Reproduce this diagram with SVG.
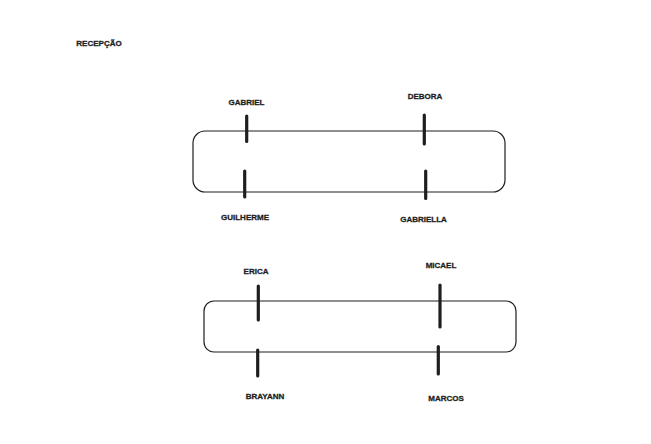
<svg xmlns="http://www.w3.org/2000/svg" width="651" height="444" viewBox="0 0 651 444">
<style>
.t{font-family:"Liberation Sans",Arial,sans-serif;font-weight:bold;font-size:8px;fill:#1e1e1e;stroke:#1e1e1e;stroke-width:0.3;text-anchor:middle}
.box{fill:none;stroke:#1e1e1e;stroke-width:1.2}
.seat{stroke:#1e1e1e;stroke-width:3.2;stroke-linecap:round}
</style>
<rect width="651" height="444" fill="#ffffff"/>
<g id="recepcao"><text class="t" x="99" y="45.5">RECEPÇÃO</text></g>
<g id="mesa1"><rect class="box" x="193" y="131" width="312" height="61" rx="12"/></g>
<g id="mesa2"><rect class="box" x="204" y="301" width="312" height="51" rx="10"/></g>
<g id="gabriel"><text class="t" x="246.5" y="104.5">GABRIEL</text></g>
<g id="debora"><text class="t" x="425" y="98.5">DEBORA</text></g>
<g id="guilherme"><text class="t" x="245" y="219.5">GUILHERME</text></g>
<g id="gabriella"><text class="t" x="423.5" y="221.5">GABRIELLA</text></g>
<g id="erica"><text class="t" x="256" y="273.5">ERICA</text></g>
<g id="micael"><text class="t" x="441" y="268">MICAEL</text></g>
<g id="brayann"><text class="t" x="265" y="399">BRAYANN</text></g>
<g id="marcos"><text class="t" x="446" y="400.5">MARCOS</text></g>
<g id="connectors">
<line class="seat" x1="246.7" y1="116" x2="246.7" y2="141.5"/>
<line class="seat" x1="424.3" y1="115" x2="424.3" y2="144"/>
<line class="seat" x1="244.7" y1="171" x2="244.7" y2="197"/>
<line class="seat" x1="425.7" y1="171" x2="425.7" y2="198.5"/>
<line class="seat" x1="258.3" y1="286" x2="258.3" y2="320"/>
<line class="seat" x1="440" y1="285" x2="440" y2="327"/>
<line class="seat" x1="257.7" y1="350" x2="257.7" y2="376"/>
<line class="seat" x1="438.3" y1="346.5" x2="438.3" y2="374"/>
</g>
</svg>
